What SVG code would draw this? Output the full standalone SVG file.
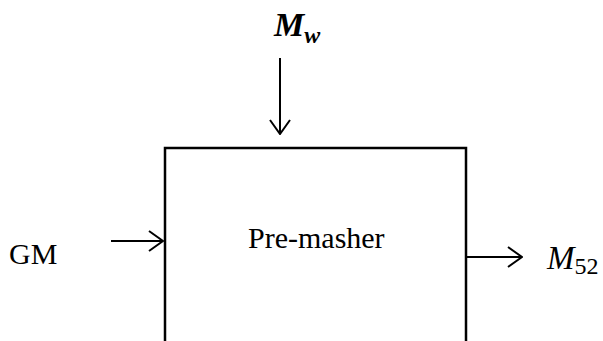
<svg xmlns="http://www.w3.org/2000/svg" width="603" height="341" viewBox="0 0 603 341">
<style>
text{font-family:"Liberation Serif","Times New Roman",serif;fill:#000}
.lbl{font-size:30px}
.c line{stroke:#000;stroke-width:2}
</style>
<defs>
<marker id="ah" viewBox="0 0 16 22" refX="15" refY="11" markerWidth="16" markerHeight="22" markerUnits="userSpaceOnUse" orient="auto">
<path d="M1,1 L15,11 L1,21" fill="none" stroke="#000" stroke-width="2"/>
</marker>
</defs>
<rect width="603" height="341" fill="#fff"/>
<g id="premasher">
<rect x="165" y="148" width="301" height="220" fill="none" stroke="#000" stroke-width="2.5"/>
<text class="lbl" x="248" y="248">Pre-masher</text>
</g>
<g id="mw">
<text x="274" y="36" font-size="34" font-weight="bold" font-style="italic">M<tspan font-size="24" dy="7">w</tspan></text>
</g>
<g id="gm">
<text class="lbl" x="9" y="264">GM</text>
</g>
<g id="m52">
<text x="547" y="269" font-size="33" font-style="italic">M<tspan font-size="24" dy="5" font-style="normal">52</tspan></text>
</g>
<g class="c" id="connectors">
<line x1="280" y1="58" x2="280" y2="134" marker-end="url(#ah)"/>
<line x1="111" y1="241" x2="163" y2="241" marker-end="url(#ah)"/>
<line x1="467" y1="257" x2="522" y2="257" marker-end="url(#ah)"/>
</g>
</svg>
